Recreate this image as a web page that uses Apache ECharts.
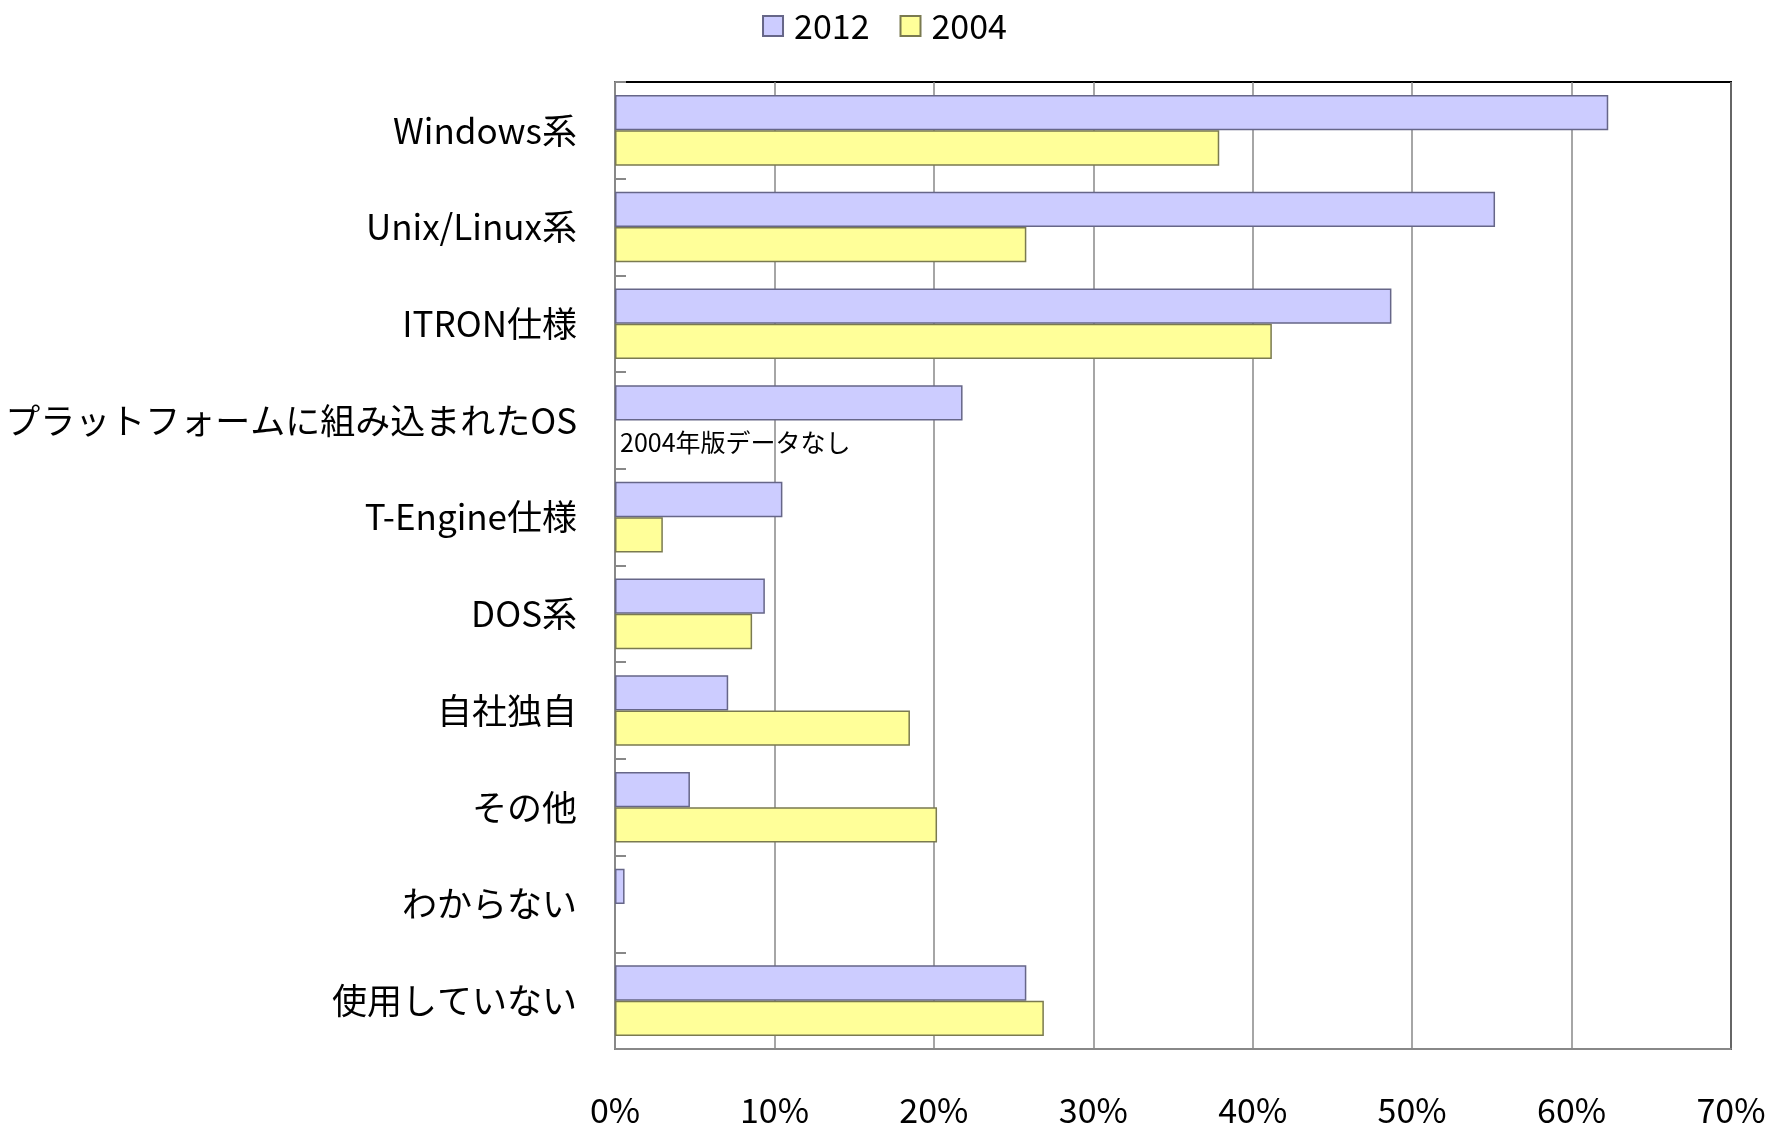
<!DOCTYPE html>
<html><head><meta charset="utf-8">
<script src="https://cdn.jsdelivr.net/npm/echarts@6/dist/echarts.min.js"></script>
<style>html,body{margin:0;padding:0;background:#fff}#c{width:1769px;height:1127px}</style>
</head><body><div id="c"></div>
<script>
const categories = ["Windows系","Unix/Linux系","ITRON仕様","プラットフォームに組み込まれたOS","T-Engine仕様","DOS系","自社独自","その他","わからない","使用していない"];
const values2012 = [62.3, 55.2, 48.7, 21.8, 10.5, 9.4, 7.1, 4.7, 0.6, 25.8];
const values2004 = [37.9, 25.8, 41.2, 0, 3.0, 8.6, 18.5, 20.2, null, 26.9];
const noDataNote = "2004年版データなし";
const xTicks = [0,10,20,30,40,50,60,70];

const font = '"Noto Sans CJK JP", "Noto Sans", sans-serif';
const chart = echarts.init(document.getElementById('c'), null, {renderer:'canvas'});
const d2004 = values2004.map((v,i) => {
  if (i === 3) return {value: 0, itemStyle:{borderWidth:0}, label:{show:true, formatter: noDataNote, position:'right', distance:5, color:'#000', fontSize:25, fontFamily:font, offset:[0,4]}};
  return v;
});
chart.setOption({
  animation:false,
  legend:{top:4, left:'center', icon:'rect', itemWidth:20, itemHeight:20, itemGap:30,
    textStyle:{fontSize:34, fontFamily:font, color:'#000', padding:[0,0,0,6]},
    data:['2012','2004']},
  grid:{left:615, right:38, top:82, bottom:78, show:true, borderColor:'#000', borderWidth:2, containLabel:false},
  xAxis:{type:'value', min:0, max:70, interval:10,
    axisLine:{show:true, lineStyle:{color:'#888', width:2}},
    axisTick:{show:false},
    splitLine:{show:true, lineStyle:{color:'#888', width:1.5}},
    axisLabel:{margin:44, fontSize:34, fontFamily:font, color:'#000', formatter: v => xTicks.includes(v) ? v + '%' : ''}},
  yAxis:{type:'category', data:categories, inverse:true,
    axisLine:{show:true, lineStyle:{color:'#888', width:2}},
    axisTick:{show:true, inside:true, length:11, lineStyle:{color:'#888', width:2}},
    axisLabel:{margin:38, fontSize:35, fontFamily:font, color:'#000'}},
  series:[
    {name:'2012', type:'bar', data:values2012, barCategoryGap:'27%', barGap:'0%',
      itemStyle:{color:'#CCCCFF', borderColor:'#666688', borderWidth:1.5}},
    {name:'2004', type:'bar', data:d2004, barCategoryGap:'27%', barGap:'0%',
      itemStyle:{color:'#FFFF99', borderColor:'#7a7a50', borderWidth:1.5}}
  ]
});
</script></body></html>
